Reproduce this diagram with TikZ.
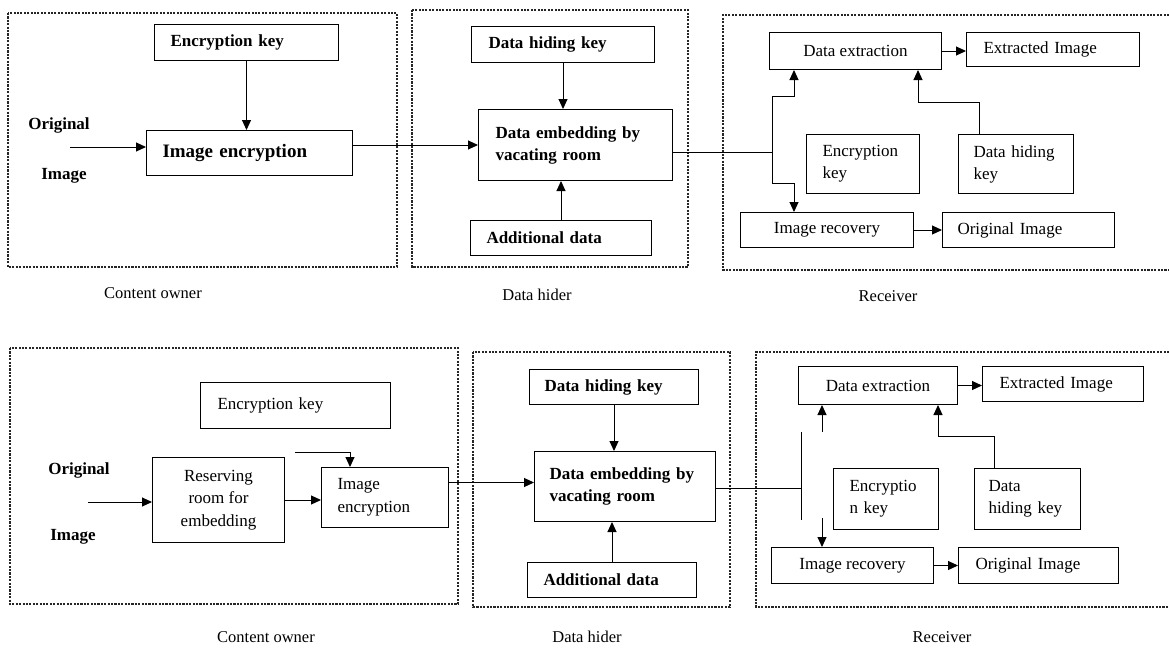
\documentclass[tikz,border=0pt]{standalone}
\usepackage{fontspec}
\setmainfont{Liberation Serif}
\usetikzlibrary{arrows.meta}
\begin{document}
\begin{tikzpicture}[x=1pt,y=-1pt,
 box/.style={draw, line width=1pt, inner ysep=0pt, anchor=north west, font=\fontsize{17}{22}\selectfont},
 bbox/.style={box, font=\fontsize{17}{22}\selectfont\bfseries},
 lab/.style={font=\fontsize{17}{19}\selectfont\bfseries, inner sep=0},
 captxt/.style={font=\fontsize{16.5}{18}\selectfont, inner sep=0},
 arr/.style={line width=1pt, -{Triangle[length=10pt,width=9pt]}},
 ln/.style={line width=1pt},
 dotb/.style={line width=2.4pt, dash pattern=on 2.1pt off 1.3pt, black!85}]
\useasboundingbox (0,0) rectangle (1169,648);

% ---------------- top row ----------------
\draw[dotb] (8,13) rectangle (397,267);
\draw[dotb] (412,10) rectangle (688,267);
\draw[dotb] (1169,15) -- (723,15) -- (723,270) -- (1169,270);

\node[bbox, minimum width=184, minimum height=36, text width=152, inner xsep=16, align=left] (ek1) at (154,24) {Encryption key};
\node[bbox, font=\fontsize{19}{21}\selectfont\bfseries, minimum width=206, minimum height=45, text width=174, inner xsep=16, align=left] (ie1) at (146,130) {Image encryption};
\node[lab] (o1) at (59,125) {Original};
\node[lab] (i1) at (64,176) {Image};
\coordinate (s1) at (70,147);
\draw[arr] (s1) -- (s1 -| ie1.west);
\draw[arr] (ek1.south) -- (ek1.south |- ie1.north);

\node[bbox, minimum width=183, minimum height=36, text width=149, inner xsep=17, align=left] (dk1) at (471,26) {Data hiding key};
\node[bbox, minimum width=194, minimum height=71, text width=160, inner xsep=17, align=left] (de1) at (478,109) {Data embedding by\\vacating room};
\node[bbox, minimum width=181, minimum height=35, text width=149, inner xsep=16, align=left] (ad1) at (470,220) {Additional data};
\draw[arr] (dk1.south) -- (dk1.south |- de1.north);
\draw[arr] (ad1.north) -- (ad1.north |- de1.south);
\draw[arr] (ie1.east |- de1.west) -- (de1.west);

\node[box, minimum width=172, minimum height=37] (dx1) at (769,32) {Data extraction};
\node[box, minimum width=173, minimum height=34, text width=139, inner xsep=17, align=left] (xi1) at (966,32) {Extracted Image};
\node[box, minimum width=113, minimum height=59, text width=81, inner xsep=16, align=left] (ke1) at (806,134) {Encryption\\key};
\node[box, minimum width=115, minimum height=59, text width=85, inner xsep=15, align=left] (kh1) at (958,134) {Data hiding\\key};
\node[box, minimum width=173, minimum height=35] (ir1) at (740,212) {Image recovery};
\node[box, minimum width=172, minimum height=35, text width=142, inner xsep=15, align=left] (oi1) at (942,212) {Original Image};
\coordinate (j1) at (772,152);
\draw[ln] (de1.east |- j1) -- (j1);
\coordinate (ja) at (772,96);
\coordinate (jb) at (772,183);
\draw[ln] (ja) -- (jb);
\draw[arr] (ja) -| ([xshift=25pt]dx1.south west);
\draw[arr] (jb) -| ([xshift=54pt]ir1.north west);
\draw[arr] ([xshift=21pt]kh1.north west) -- ++(0,-32) -| ([xshift=149pt]dx1.south west);
\draw[arr] (dx1.east) -- (xi1.west |- dx1.east);
\draw[arr] (ir1.east) -- (oi1.west);

\node[captxt] (c1) at (153,293) {Content owner};
\node[captxt] (h1) at (537,295) {Data hider};
\node[captxt] (r1) at (888,296) {Receiver};

% ---------------- bottom row ----------------
\draw[dotb] (10,348) rectangle (458,604);
\draw[dotb] (473,352) rectangle (730,607);
\draw[dotb] (1169,352) -- (756,352) -- (756,607) -- (1169,607);

\node[box, minimum width=190, minimum height=46, text width=156, inner xsep=17, align=left] (ek2) at (200,382) {Encryption key};
\node[box, font=\fontsize{17}{22.5}\selectfont, minimum width=132, minimum height=85, align=center] (rr2) at (152,457) {Reserving\\room for\\embedding};
\node[box, font=\fontsize{17}{23}\selectfont, minimum width=127, minimum height=60, text width=95, inner xsep=16, align=left] (ie2) at (321,467) {Image\\encryption};
\node[lab] (o2) at (79,470) {Original};
\node[lab] (i2) at (73,537) {Image};
\coordinate (s2) at (88,502);
\draw[arr] (s2) -- (s2 -| rr2.west);
\draw[arr] (rr2.east) -- (rr2.east -| ie2.west);
\coordinate (f2) at (295,452);
\draw[arr] (f2) -| ([xshift=29pt]ie2.north west);

\node[bbox, minimum width=169, minimum height=35, text width=139, inner xsep=15, align=left] (dk2) at (529,369) {Data hiding key};
\node[bbox, minimum width=181, minimum height=70, text width=151, inner xsep=15, align=left] (de2) at (534,451) {Data embedding by\\vacating room};
\node[bbox, minimum width=169, minimum height=35, text width=137, inner xsep=16, align=left] (ad2) at (527,562) {Additional data};
\draw[arr] (dk2.south) -- (dk2.south |- de2.north);
\draw[arr] (ad2.north) -- (ad2.north |- de2.south);
\coordinate (e2) at ([yshift=4pt]de2.west);
\draw[arr] (ie2.east |- e2) -- (e2);

\node[box, minimum width=159, minimum height=38] (dx2) at (798,366) {Data extraction};
\node[box, minimum width=161, minimum height=35, text width=127, inner xsep=17, align=left] (xi2) at (982,366) {Extracted Image};
\node[box, minimum width=105, minimum height=61, text width=73, inner xsep=16, align=left] (ke2) at (833,468) {Encryptio\\n key};
\node[box, minimum width=106, minimum height=61, text width=78, inner xsep=14, align=left] (kh2) at (974,468) {Data\\hiding key};
\node[box, minimum width=162, minimum height=36] (ir2) at (771,547) {Image recovery};
\node[box, minimum width=160, minimum height=36, text width=126, inner xsep=17, align=left] (oi2) at (958,547) {Original Image};
\coordinate (j2) at (801,488);
\draw[ln] (de2.east |- j2) -- (j2);
\coordinate (ka) at (801,432);
\coordinate (kb) at (801,520);
\draw[ln] (ka) -- (kb);
\coordinate (u2) at (822,432);
\draw[arr] (u2) -- (u2 |- dx2.south);
\coordinate (d2) at (822,518);
\draw[arr] (d2) -- (d2 |- ir2.north);
\draw[arr] ([xshift=20pt]kh2.north west) -- ++(0,-32) -| ([xshift=140pt]dx2.south west);
\draw[arr] (dx2.east) -- (xi2.west |- dx2.east);
\draw[arr] (ir2.east) -- (oi2.west);

\node[captxt] (c2) at (266,637) {Content owner};
\node[captxt] (h2) at (587,637) {Data hider};
\node[captxt] (r2) at (942,637) {Receiver};
\end{tikzpicture}
\end{document}
